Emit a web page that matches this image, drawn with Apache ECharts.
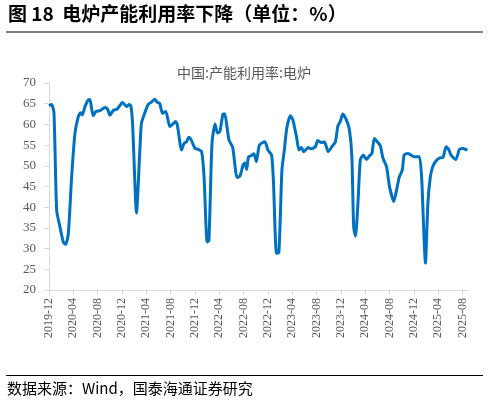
<!DOCTYPE html><html><head><meta charset="utf-8">
<script src="https://cdn.jsdelivr.net/npm/echarts@6/dist/echarts.min.js"></script>
<style>body{margin:0}#c{width:488px;height:406px}</style></head><body><div id="c"></div>
<script>
const startYear = 2019, startMonth = 12;
const monthOffsets = [0,0.44,0.82,1.26,1.81,2.35,2.74,3.18,3.72,4.27,4.82,5.2,5.47,5.91,6.46,6.73,7.0,7.28,7.72,8.37,9.2,9.63,10.02,10.56,11.22,12.1,12.75,13.19,13.46,13.74,14.39,14.94,15.2,15.76,16.3,16.86,17.4,17.8,18.2,18.66,19.2,19.87,20.4,20.8,21.1,21.8,22.2,22.6,23.0,23.4,24.0,24.5,25.1,25.5,26.0,26.3,26.8,27.3,27.7,28.1,28.6,28.9,29.3,29.6,30.2,30.6,30.9,31.4,31.9,32.2,32.5,32.8,33.3,33.7,34.1,34.6,35.5,36.0,36.6,36.9,37.4,37.8,38.3,38.7,39.1,39.7,40.1,40.7,41.1,41.5,41.9,42.6,43.1,43.8,44.2,44.8,45.3,45.9,46.6,47.1,47.5,47.9,48.3,48.9,49.4,49.8,50.1,50.4,50.8,51.2,51.7,52.2,52.7,53.1,53.5,54.1,54.5,54.9,55.5,56.0,56.7,57.2,57.6,58.1,58.4,59.0,59.5,60.0,60.9,61.3,61.6,61.9,62.3,62.7,63.1,63.6,64.2,64.8,65.3,65.7,66.1,66.9,67.5,68.1,68.8];
const utilization = [64.5,64.8,62.7,39.2,35.2,31.6,31.0,33.6,47.3,57.9,61.9,62.8,62.3,64.3,65.9,66.0,63.9,62.1,63.1,63.3,64.1,63.7,62.2,63.4,63.7,65.3,64.3,64.8,64.5,60.3,38.6,53.8,60.3,62.8,64.8,65.4,66.1,65.3,65.1,62.7,63.1,59.5,60.1,60.7,59.9,53.8,55.4,55.8,56.9,56.2,54.2,54.0,53.4,47.3,31.6,32.0,55.4,60.1,57.9,58.3,62.5,62.6,59.1,56.2,54.5,49.8,47.2,47.5,50.1,50.7,49.1,52.1,52.5,52.9,51.0,55.0,55.8,53.8,52.6,46.5,28.9,29.0,49.0,53.8,59.1,62.1,61.1,57.0,53.8,54.4,53.4,54.4,54.1,54.6,56.1,55.6,55.8,53.4,54.8,55.8,59.6,60.7,62.5,61.1,58.7,52.3,35.2,33.0,40.9,51.5,52.6,51.5,52.4,53.0,56.6,55.6,54.8,51.9,49.8,44.9,41.4,44.5,47.3,49.0,52.6,53.0,52.6,52.2,52.2,46.5,35.2,26.5,40.9,47.3,49.8,51.1,51.9,52.1,54.6,54.0,52.6,51.5,54.0,54.2,53.8];
const seriesName = '中国:产能利用率:电炉';
const yTicks = [20,25,30,35,40,45,50,55,60,65,70];
const serif = 'Liberation Serif';
function monthLabel(v){const t=startYear*12+(startMonth-1)+Math.round(v);return Math.floor(t/12)+'-'+String(t%12+1).padStart(2,'0');}
const chart = echarts.init(document.getElementById('c'));
chart.setOption({
  animation:false,
  graphic:[
    {type:'text',left:8,top:4,style:{text:'图 18  电炉产能利用率下降（单位：%）',font:'bold 19px "Noto Sans CJK SC"',fill:'#000'}},
    {type:'rect',shape:{x:6,y:31,width:477,height:2},style:{fill:'#7f7f7f'}},
    {type:'rect',shape:{x:6,y:375,width:477,height:1},style:{fill:'#000'}},
    {type:'text',left:7,top:381,style:{text:'数据来源：Wind，国泰海通证券研究',font:'15px "Noto Sans CJK SC"',fill:'#000'}}
  ],
  title:{text:seriesName,left:'center',top:61,textStyle:{fontSize:14,fontWeight:'normal',color:'#595959',fontFamily:'Noto Sans CJK SC'}},
  grid:{left:49,right:20,top:83,bottom:116},
  xAxis:{type:'value',min:0,max:68.9,interval:4,
    axisLine:{lineStyle:{color:'#d9d9d9'}},axisTick:{show:true,lineStyle:{color:'#d9d9d9'}},splitLine:{show:false},
    axisLabel:{rotate:90,color:'#595959',fontFamily:serif,fontSize:12,formatter:v=>monthLabel(v),showMaxLabel:false}},
  yAxis:{type:'value',min:yTicks[0],max:yTicks[yTicks.length-1],interval:5,
    axisLine:{show:true,lineStyle:{color:'#d9d9d9'}},axisTick:{show:true,lineStyle:{color:'#d9d9d9'}},splitLine:{show:false},
    axisLabel:{color:'#595959',fontFamily:serif,fontSize:13,margin:13}},
  series:[{name:seriesName,type:'line',showSymbol:false,smooth:0.2,
    lineStyle:{color:'#0070c0',width:3},
    data:monthOffsets.map((m,i)=>[m,utilization[i]])}]
});
</script></body></html>
